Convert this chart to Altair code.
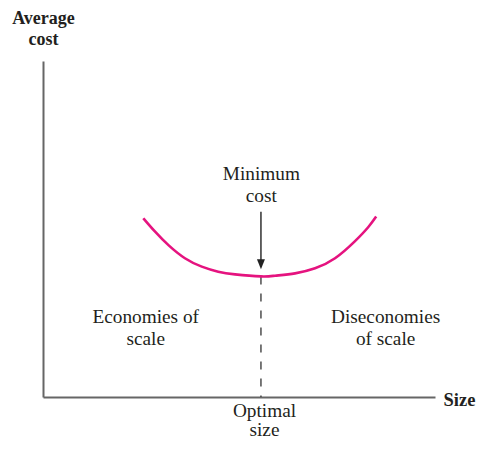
import altair as alt
import pandas as pd

# ---- data (size 0..100, average cost 0..100) ----
curve_size = [25.6, 28.6, 32.0, 36.2, 40.5, 44.7, 49.0, 55.6, 59.2, 64.3, 69.4, 74.5, 79.6, 83.0, 85.0]
curve_cost = [53.2, 49.2, 45.2, 41.3, 38.8, 37.3, 36.5, 35.9, 36.1, 36.8, 38.3, 41.3, 46.4, 50.6, 53.7]

optimal_size = 55.6
minimum_cost = 35.9
arrow_top = 55.15
arrow_head = 39.5

label_text = [["Minimum", "cost"], ["Economies of", "scale"], ["Diseconomies", "of scale"]]
label_size = [55.7, 26.2, 87.4]
label_cost = [64.7, 22.1, 22.1]

optimal_text = [["Optimal", "size"]]
optimal_pos = [56.5]
optimal_cost = [-5.95]

FONT = "Liberation Serif"
TEXT = "#231f20"

curve_df = pd.DataFrame({"size": curve_size, "cost": curve_cost})
labels_df = pd.DataFrame({"text": label_text, "size": label_size, "cost": label_cost})
optimal_df = pd.DataFrame({"text": optimal_text, "size": optimal_pos, "cost": optimal_cost})
dash_df = pd.DataFrame({"size": [optimal_size], "cost": [minimum_cost], "cost0": [0.0]})
arrow_df = pd.DataFrame({"size": [optimal_size], "top": [arrow_top], "head": [arrow_head]})

xs = alt.Scale(domain=[0, 100], nice=False, zero=False)
ys = alt.Scale(domain=[0, 100], nice=False, zero=False)

x_axis = alt.Axis(ticks=False, labels=False, grid=False, domainColor="#666666", domainWidth=2,
                  title="Size", titleFont=FONT, titleFontSize=18.5, titleFontWeight="bold",
                  titleColor=TEXT, titleAngle=0, titleAlign="left", titleBaseline="alphabetic",
                  titleAnchor="start", titleX=400, titleY=8)
y_axis = alt.Axis(ticks=False, labels=False, grid=False, domainColor="#666666", domainWidth=2,
                  title=["Average", "cost"], titleFont=FONT, titleFontSize=18, titleFontWeight="bold",
                  titleColor=TEXT, titleAngle=0, titleAlign="center", titleBaseline="alphabetic",
                  titleAnchor="start", titleX=0, titleY=-38, titleLineHeight=21.5)

curve = alt.Chart(curve_df).mark_line(color="#e5137f", strokeWidth=2.6, interpolate="natural").encode(
    x=alt.X("size:Q", scale=xs, axis=x_axis),
    y=alt.Y("cost:Q", scale=ys, axis=y_axis),
)

dash = alt.Chart(dash_df).mark_rule(color="#333333", strokeWidth=1.3, strokeDash=[8, 9]).encode(
    x=alt.X("size:Q", scale=xs),
    y=alt.Y("cost:Q", scale=ys),
    y2="cost0:Q",
)

shaft = alt.Chart(arrow_df).mark_rule(color="#222222", strokeWidth=1.4).encode(
    x=alt.X("size:Q", scale=xs),
    y=alt.Y("top:Q", scale=ys),
    y2="head:Q",
)

head = alt.Chart(arrow_df).mark_point(
    shape="M-1,-1.25L1,-1.25L0,1.25Z", size=64, filled=True, color="#222222", opacity=1
).encode(
    x=alt.X("size:Q", scale=xs),
    y=alt.Y("head:Q", scale=ys),
)

labels = alt.Chart(labels_df).mark_text(
    font=FONT, fontSize=19.3, color=TEXT, align="center", baseline="alphabetic", lineHeight=22
).encode(
    x=alt.X("size:Q", scale=xs),
    y=alt.Y("cost:Q", scale=ys),
    text="text",
)

optimal = alt.Chart(optimal_df).mark_text(
    font=FONT, fontSize=19.3, color=TEXT, align="center", baseline="alphabetic", lineHeight=19
).encode(
    x=alt.X("size:Q", scale=xs),
    y=alt.Y("cost:Q", scale=ys),
    text="text",
)

chart = alt.layer(dash, curve, shaft, head, labels, optimal).properties(
    width=392, height=336,
    autosize=alt.AutoSizeParams(type="none"),
    padding={"left": 35, "top": 53, "right": 41, "bottom": 45},
).configure_view(stroke=None)

chart.save("out.html", embed_options={"renderer": "svg", "actions": False})
